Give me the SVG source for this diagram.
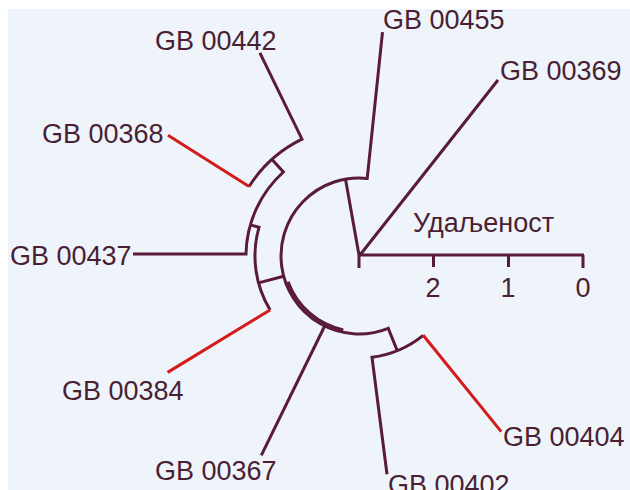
<svg xmlns="http://www.w3.org/2000/svg" width="630" height="490" viewBox="0 0 630 490">
<style>
.br{fill:none;stroke:#5a1a3a;stroke-width:3;stroke-linecap:butt;stroke-linejoin:miter}
.rd{fill:none;stroke:#d41a1a;stroke-width:3}
.lb{font-family:"Liberation Sans",Arial,sans-serif;font-size:27px;fill:#4a1f33}
.sc{font-family:"Liberation Sans",Arial,sans-serif;font-size:27px;fill:#4a1f33;text-anchor:middle}
</style>
<rect x="0" y="0" width="630" height="490" fill="#ffffff"/>
<rect x="8" y="9" width="622" height="481" fill="#eef4fa"/>
<g id="connectors">
<path class="br" d="M359,255 L345.5,179.2"/>
<path class="br" d="M498,80 L360,255"/>
<path class="br" d="M382.5,32.2 L367.2,178.4 A78,78 0 1,0 388.2,328.3 L397.2,350.6"/>
<path class="br" d="M288.1,281.8 A75.5,75.5 0 0,0 343.3,329.9"/>
<path class="br" d="M423.2,335.3 A102,102 0 0,1 372,357.2 L387,474.2"/>
<path class="rd" d="M423.2,335.3 L501.2,431.6"/>
<path class="br" d="M324.7,326 L261.3,455.4"/>
<path class="br" d="M259.9,52.9 L302,139.2 A130,130 0 0,0 249.1,186.5"/>
<path class="rd" d="M249.1,186.5 L168,135.2"/>
<path class="br" d="M272,159.4 L283.4,172 A113,113 0 0,0 246,254 L133,254"/>
<path class="br" d="M250.4,224.9 L259,227.3 A104,104 0 0,0 270.1,310"/>
<path class="rd" d="M270.1,310 L167.6,372.4"/>
<path class="br" d="M258.5,282.9 L283.7,276.2"/>
</g>
<g id="scale">
<path class="br" d="M359,255 H584 M359,255 V268 M433.5,255 V267 M508.5,255 V267 M583,255 V268"/>
<text class="lb" x="413" y="232">Удаљеност</text>
<text class="sc" x="433" y="297">2</text>
<text class="sc" x="508" y="297">1</text>
<text class="sc" x="583" y="297">0</text>
</g>
<g id="n455"><text class="lb" x="383" y="29">GB 00455</text></g>
<g id="n442"><text class="lb" x="155" y="50">GB 00442</text></g>
<g id="n369"><text class="lb" x="500" y="80">GB 00369</text></g>
<g id="n368"><text class="lb" x="42" y="143">GB 00368</text></g>
<g id="n437"><text class="lb" x="10" y="265">GB 00437</text></g>
<g id="n384"><text class="lb" x="62" y="400">GB 00384</text></g>
<g id="n404"><text class="lb" x="503" y="446">GB 00404</text></g>
<g id="n367"><text class="lb" x="155" y="480">GB 00367</text></g>
<g id="n402"><text class="lb" x="388" y="494">GB 00402</text></g>
</svg>
